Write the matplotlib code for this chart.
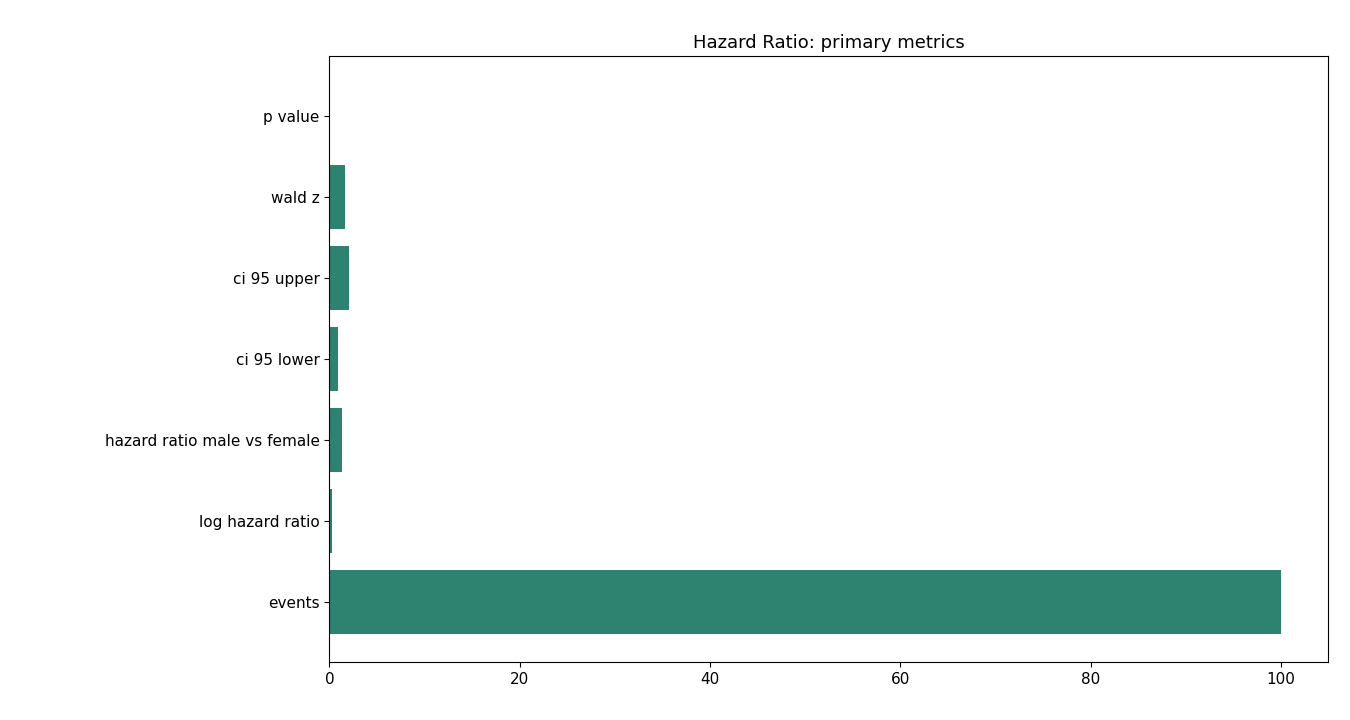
import matplotlib
matplotlib.use("Agg")
import matplotlib.pyplot as plt

labels = ["events", "log hazard ratio", "hazard ratio male vs female", "ci 95 lower", "ci 95 upper", "wald z", "p value"]
values = [100, 0.32, 1.37, 0.95, 2.1, 1.68, 0.09]

fig = plt.figure(figsize=(13.5, 7.2), dpi=100)
ax = fig.add_axes([0.244, 0.0806, 0.74, 0.8414])
ax.barh(labels, values, color="#2e8270")
ax.set_title("Hazard Ratio: primary metrics", fontsize=13)
ax.tick_params(labelsize=11)
fig.savefig("out.png", dpi=100)
